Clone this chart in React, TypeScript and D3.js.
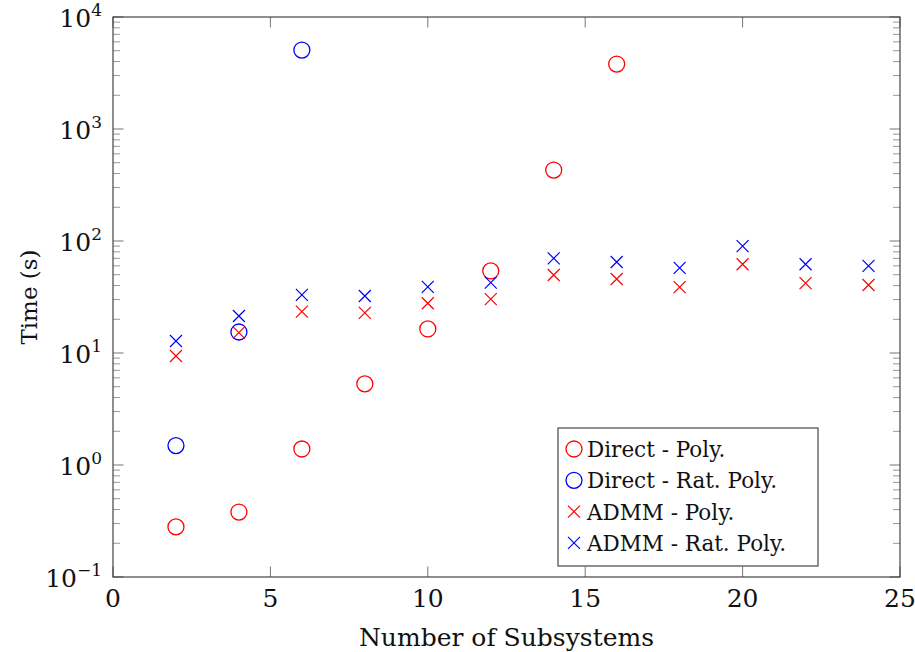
import React from "react";
import * as d3 from "d3";

const directPolyX = [2, 4, 6, 8, 10, 12, 14, 16];
const directPolyY = [0.28, 0.38, 1.39, 5.3, 16.4, 54, 430, 3800];
const directRatX = [2, 4, 6];
const directRatY = [1.49, 15.4, 5070];
const admmPolyX = [2, 4, 6, 8, 10, 12, 14, 16, 18, 20, 22, 24];
const admmPolyY = [9.4, 15.2, 23.4, 22.8, 27.8, 30.3, 49.7, 45.8, 38.8, 62, 42, 40.5];
const admmRatX = [2, 4, 6, 8, 10, 12, 14, 16, 18, 20, 22, 24];
const admmRatY = [12.8, 21.4, 33, 32.3, 39, 42.5, 70, 65, 57.5, 90, 62, 60];
const xTicks = [0, 5, 10, 15, 20, 25];
const yExps = [-1, 0, 1, 2, 3, 4];
const legendLabels = ["Direct - Poly.", "Direct - Rat. Poly.", "ADMM - Poly.", "ADMM - Rat. Poly."];

const W = 915, H = 652;
const L = 113, R = 900, T = 17, B = 577;
const FONT = "'DejaVu Serif'";

export default function App() {
  const x = d3.scaleLinear().domain([0, 25]).range([L, R]);
  const y = d3.scaleLog().domain([0.1, 10000]).range([B, T]);

  const minor: number[] = [];
  for (let e = -1; e < 4; e++) for (let k = 2; k <= 9; k++) minor.push(k * Math.pow(10, e));

  const circle = (cx: number, cy: number, color: string, key: string) => (
    <circle key={key} cx={cx} cy={cy} r={8} fill="none" stroke={color} strokeWidth={1.3} />
  );
  const cross = (cx: number, cy: number, color: string, key: string) => (
    <path key={key} d={`M${cx - 6},${cy - 6}L${cx + 6},${cy + 6}M${cx - 6},${cy + 6}L${cx + 6},${cy - 6}`} stroke={color} strokeWidth={1.2} fill="none" />
  );

  const series = [
    { xs: directPolyX, ys: directPolyY, color: "#ff0000", kind: "o" },
    { xs: directRatX, ys: directRatY, color: "#0000ff", kind: "o" },
    { xs: admmPolyX, ys: admmPolyY, color: "#ff0000", kind: "x" },
    { xs: admmRatX, ys: admmRatY, color: "#0000ff", kind: "x" },
  ];

  const lx = 558, ly = 428, lw = 260, lh = 138;
  const ts = { fontFamily: FONT } as React.CSSProperties;

  return (
    <svg width={W} height={H} style={{ position: "absolute", left: 0, top: 0, background: "#fff", fontFamily: FONT }}>
      <rect x={0} y={0} width={W} height={H} fill="#fff" />
      {minor.map((v, i) => (
        <g key={"m" + i} stroke="#999" strokeWidth={1}>
          <line x1={L} x2={L + 7} y1={y(v)} y2={y(v)} />
          <line x1={R} x2={R - 7} y1={y(v)} y2={y(v)} />
        </g>
      ))}
      {yExps.map((e) => (
        <g key={"y" + e} stroke="#777" strokeWidth={1}>
          <line x1={L} x2={L + 10.5} y1={y(Math.pow(10, e))} y2={y(Math.pow(10, e))} />
          <line x1={R} x2={R - 10.5} y1={y(Math.pow(10, e))} y2={y(Math.pow(10, e))} />
        </g>
      ))}
      {xTicks.map((t) => (
        <g key={"x" + t} stroke="#777" strokeWidth={1}>
          <line x1={x(t)} x2={x(t)} y1={B} y2={B - 10.5} />
          <line x1={x(t)} x2={x(t)} y1={T} y2={T + 10.5} />
        </g>
      ))}
      <rect x={L} y={T} width={R - L} height={B - T} fill="none" stroke="#333" strokeWidth={1.1} />
      {series.map((s, si) =>
        s.xs.map((xv, i) =>
          s.kind === "o"
            ? circle(x(xv), y(s.ys[i]), s.color, `s${si}-${i}`)
            : cross(x(xv), y(s.ys[i]), s.color, `s${si}-${i}`)
        )
      )}
      {xTicks.map((t) => (
        <text key={"xl" + t} x={x(t)} y={607} textAnchor="middle" fontSize={25} fill="#111" style={ts}>{t}</text>
      ))}
      {yExps.map((e) => (
        <text key={"yl" + e} x={102} y={y(Math.pow(10, e)) + 10} textAnchor="end" fontSize={25} fill="#111" style={ts}>
          10<tspan dy={-11} fontSize={17}>{e < 0 ? "\u2212" + Math.abs(e) : e}</tspan>
        </text>
      ))}
      <text x={(L + R) / 2} y={646} textAnchor="middle" fontSize={25} fill="#111" style={ts}>Number of Subsystems</text>
      <text transform={`translate(37,${(T + B) / 2}) rotate(-90)`} textAnchor="middle" fontSize={23} fill="#111" style={ts}>Time (s)</text>
      <rect x={lx} y={ly} width={lw} height={lh} fill="#fff" stroke="#333" strokeWidth={1.1} />
      {legendLabels.map((lab, i) => {
        const cy = 449 + i * 31.3;
        const s = series[i];
        return (
          <g key={"lg" + i}>
            {s.kind === "o" ? circle(574, cy, s.color, "lc" + i) : cross(574, cy, s.color, "lc" + i)}
            <text x={587} y={cy + 8} fontSize={21.5} fill="#111" style={ts}>{lab}</text>
          </g>
        );
      })}
    </svg>
  );
}
